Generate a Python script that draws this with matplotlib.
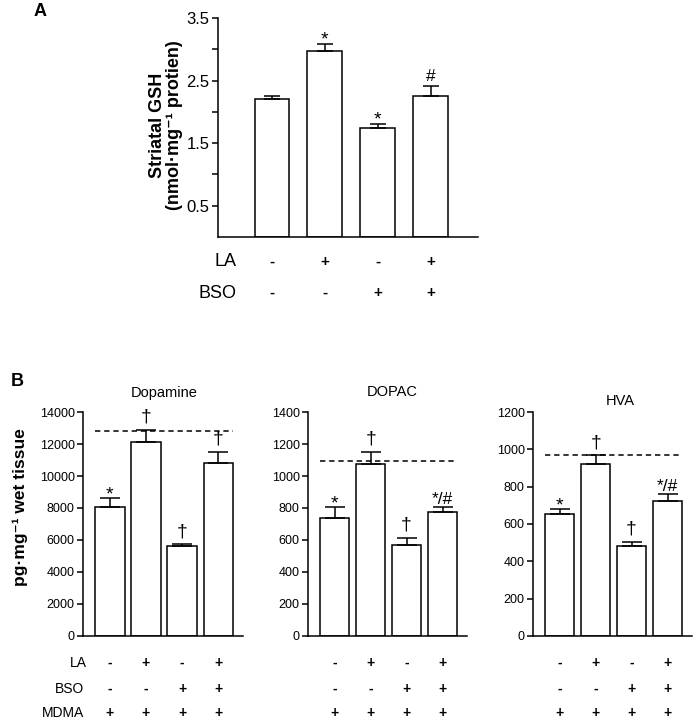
import matplotlib
matplotlib.use("Agg")
import matplotlib.pyplot as plt

plt.rcParams['font.family'] = ['Liberation Sans', 'DejaVu Sans']

# Panel A: striatal GSH
gsh_mean = [2.20, 2.98, 1.74, 2.26]
gsh_err = [0.05, 0.10, 0.06, 0.16]
gsh_marks = ['', '*', '*', '#']
la_row = ['-', '+', '-', '+']
bso_row = ['-', '-', '+', '+']
mdma_row = ['+', '+', '+', '+']

# Panel B: monoamines
titles = ['Dopamine', 'DOPAC', 'HVA']
b_means = [[8050, 12100, 5600, 10800],
           [735, 1078, 568, 772],
           [654, 921, 482, 721]]
b_errs = [[550, 800, 120, 700],
          [70, 72, 45, 36],
          [28, 47, 23, 40]]
b_marks = [['*', '†', '†', '†'],
           ['*', '†', '†', '*/#'],
           ['*', '†', '†', '*/#']]
b_control = [12800, 1095, 968]
b_ymax = [14000, 1400, 1200]
b_step = [2000, 200, 200]

W, H = 693, 721
fig = plt.figure(figsize=(W / 100, H / 100), dpi=100)


def px_axes(left, right, top, bottom):
    return fig.add_axes([left / W, 1 - bottom / H, (right - left) / W, (bottom - top) / H])


def style(ax, size):
    for s in ['top', 'right']:
        ax.spines[s].set_visible(False)
    for s in ['left', 'bottom']:
        ax.spines[s].set_linewidth(1.1)
    ax.tick_params(axis='y', direction='out', length=4, width=1.1, labelsize=size, pad=2)
    ax.set_xticks([])


# font size and vertical nudge (points) for the significance marks
def mark_style(t):
    if t == '*':
        return 14, -4
    if t == '†':
        return 14, 3
    return 12.5, 0


x = [0, 1, 2, 3]

# ---- Panel A
axA = px_axes(218, 478, 18, 237)
axA.bar(x, gsh_mean, width=0.66, color='white', edgecolor='black', linewidth=1.1)
axA.errorbar(x, gsh_mean, yerr=[[0] * 4, gsh_err], fmt='none', ecolor='black',
             elinewidth=1.1, capsize=6, capthick=1.1)
for xi, m, e, t in zip(x, gsh_mean, gsh_err, gsh_marks):
    if t:
        fs, dy = mark_style(t)
        axA.annotate(t, (xi, m + e), xytext=(0, dy + 1), textcoords='offset points',
                     ha='center', va='bottom', fontsize=fs)
axA.set_xlim(-1.02, 3.89)
axA.set_ylim(0, 3.5)
axA.set_yticks([0.5, 1.0, 1.5, 2.0, 2.5, 3.0, 3.5])
axA.set_yticklabels(['0.5', '', '1.5', '', '2.5', '', '3.5'])
style(axA, 12)
tr = axA.get_xaxis_transform()
for lab, row, yy in [('LA', la_row, -0.114), ('BSO', bso_row, -0.256)]:
    axA.text(-0.68, yy, lab, transform=tr, ha='right', va='center', fontsize=13)
    for xi, s in zip(x, row):
        axA.text(xi, yy, s, transform=tr, ha='center', va='center', fontsize=11,
                 fontweight='bold')
fig.text(166 / W, 1 - 125 / H, 'Striatal GSH\n(nmol·mg⁻¹ protien)', rotation=90,
         ha='center', va='center', fontsize=13, fontweight='bold', linespacing=1.0)
fig.text(40 / W, 1 - 12 / H, 'A', ha='center', va='center', fontsize=13, fontweight='bold')

# ---- Panel B
boxes = [(83, 243), (308, 467), (533, 692)]
title_pos = [(164, 393), (392, 392), (620, 401)]
for i in range(3):
    ax = px_axes(boxes[i][0], boxes[i][1], 412, 636)
    ax.bar(x, b_means[i], width=0.82, color='white', edgecolor='black', linewidth=1.1)
    ax.errorbar(x, b_means[i], yerr=[[0] * 4, b_errs[i]], fmt='none', ecolor='black',
                elinewidth=1.1, capsize=7, capthick=1.1)
    ax.hlines(b_control[i], -0.41, 3.41, colors='black', linestyles=(0, (3.5, 2.5)),
              linewidth=1.1)
    for xi, m, e, t in zip(x, b_means[i], b_errs[i], b_marks[i]):
        fs, dy = mark_style(t)
        ax.annotate(t, (xi, m + e), xytext=(0, dy), textcoords='offset points',
                    ha='center', va='bottom', fontsize=fs)
    ax.set_xlim(-0.74, 3.68)
    ax.set_ylim(0, b_ymax[i])
    ax.set_yticks(range(0, b_ymax[i] + 1, b_step[i]))
    style(ax, 9)
    tr = ax.get_xaxis_transform()
    rows = [('LA', la_row, -0.121, -0.64), ('BSO', bso_row, -0.237, -0.72),
            ('MDMA', mdma_row, -0.344, -0.72)]
    for lab, row, yy, lx in rows:
        if i == 0:
            ax.text(lx, yy, lab, transform=tr, ha='right', va='center', fontsize=10)
        for xi, s in zip(x, row):
            ax.text(xi, yy, s, transform=tr, ha='center', va='center', fontsize=10,
                    fontweight='bold')
    fig.text(title_pos[i][0] / W, 1 - title_pos[i][1] / H, titles[i],
             ha='center', va='center', fontsize=10.5)

fig.text(20 / W, 1 - 507 / H, 'pg·mg⁻¹ wet tissue', rotation=90,
         ha='center', va='center', fontsize=12.5, fontweight='bold')
fig.text(17 / W, 1 - 382 / H, 'B', ha='center', va='center', fontsize=13, fontweight='bold')

fig.savefig('out.png', dpi=100)
